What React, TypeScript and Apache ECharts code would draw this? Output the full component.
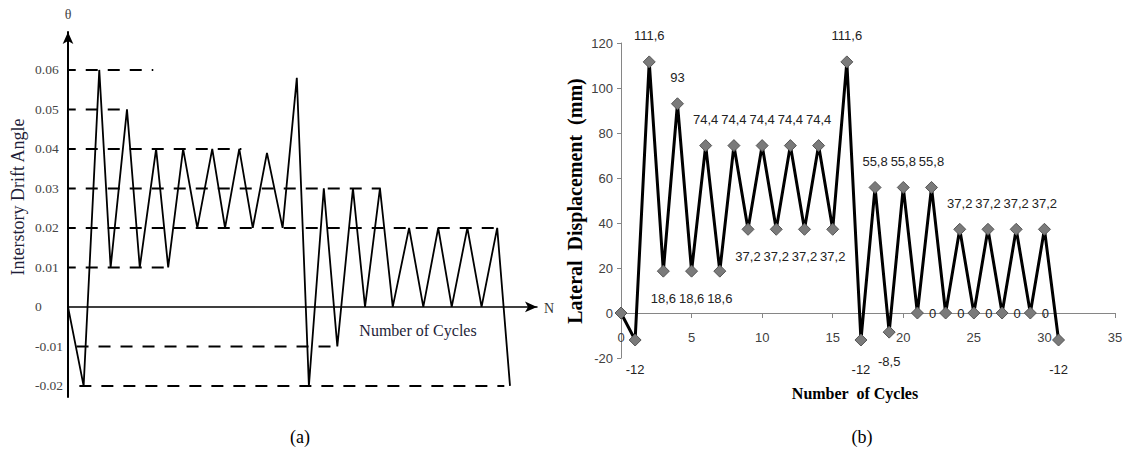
import React, { useEffect, useRef } from 'react';
import * as echarts from 'echarts';

// ---------- Panel (a): interstory drift angle protocol ----------
const driftX = [0, 1.1, 2.2, 3.0, 4.15, 5.05, 6.2, 7.05, 8.1, 9.1, 10.15, 11.05, 12.05, 13.0, 14.0, 15.1, 16.1, 16.95, 18.0, 18.95, 20.05, 20.9, 21.95, 22.85, 24.0, 25.0, 26.05, 27.0, 28.1, 29.1, 30.2, 31.1];
const driftY = [0, -0.02, 0.06, 0.01, 0.05, 0.01, 0.04, 0.01, 0.04, 0.02, 0.04, 0.02, 0.04, 0.02, 0.039, 0.02, 0.058, -0.02, 0.03, -0.01, 0.03, 0, 0.03, 0, 0.02, 0, 0.02, 0, 0.02, 0, 0.02, -0.02];
const driftTicks = [-0.02, -0.01, 0, 0.01, 0.02, 0.03, 0.04, 0.05, 0.06];
const refLevels = [0.06, 0.05, 0.04, 0.03, 0.02, 0.01, -0.01, -0.02];
const refStart = [-0.3, -0.3, -0.3, -0.3, -0.3, -0.3, 0.6, 0.8];
const refEnd = [6.0, 3.9, 12.2, 22.0, 30.2, 7.0, 18.9, 30.7];

// ---------- Panel (b): lateral displacement ----------
const cycles = [0, 1, 2, 3, 4, 5, 6, 7, 8, 9, 10, 11, 12, 13, 14, 15, 16, 17, 18, 19, 20, 21, 22, 23, 24, 25, 26, 27, 28, 29, 30, 31];
const displacement = [0, -12, 111.6, 18.6, 93, 18.6, 74.4, 18.6, 74.4, 37.2, 74.4, 37.2, 74.4, 37.2, 74.4, 37.2, 111.6, -12, 55.8, -8.5, 55.8, 0, 55.8, 0, 37.2, 0, 37.2, 0, 37.2, 0, 37.2, -12];

const SERIF = '"Liberation Serif", "Times New Roman", serif';
const SANS = '"Liberation Sans", Arial, sans-serif';

export default function App() {
  const ref = useRef<HTMLDivElement>(null);
  useEffect(() => {
    if (!ref.current) return;
    const chart = echarts.init(ref.current, null, { renderer: 'svg' });

    const refSeries = refLevels.map((lvl, i) => ({
      type: 'line',
      xAxisIndex: 0,
      yAxisIndex: 0,
      data: [[refStart[i], lvl], [refEnd[i], lvl]],
      symbol: 'none',
      clip: false,
      silent: true,
      lineStyle: { color: '#000', width: 2, type: [12, 10] },
    }));

    const dispData = displacement.map((v, i) => {
      const prev = i > 0 ? displacement[i - 1] : -Infinity;
      const next = i < displacement.length - 1 ? displacement[i + 1] : -Infinity;
      let label: any;
      if (i === 0) label = { show: false };
      else if (v === 0) label = { show: true, position: 'right', distance: 5 };
      else if (v > prev && v > next) label = { show: true, position: 'top', distance: 13 };
      else label = { show: true, position: 'bottom', distance: v < 0 ? 16 : 14 };
      return { value: [cycles[i], v], label };
    });

    // panel (b) grid: height 315 px for -20..120 -> zero sits 45 px above the bottom
    const gridBTop = 43;
    const gridBHeight = 315;
    const zeroOffset = -(gridBHeight * 20) / 140;

    chart.setOption({
      animation: false,
      backgroundColor: '#fff',
      grid: [
        { left: 68, top: 32, width: 469, height: 365 },
        { left: 621, top: gridBTop, width: 494, height: gridBHeight },
      ],
      xAxis: [
        {
          gridIndex: 0, type: 'value', min: 0, max: 33,
          axisLine: { show: true, onZero: true, symbol: ['none', 'arrow'], symbolSize: [8, 12], lineStyle: { color: '#000', width: 1.5 } },
          axisTick: { show: false }, axisLabel: { show: false }, splitLine: { show: false },
        },
        {
          gridIndex: 1, type: 'value', min: 0, max: 35, interval: 5,
          position: 'bottom', offset: zeroOffset,
          axisLine: { show: true, onZero: false, lineStyle: { color: '#868686', width: 1 } },
          axisTick: { show: true, length: 5, lineStyle: { color: '#868686' } },
          axisLabel: { margin: 18, fontFamily: SANS, fontSize: 13, color: '#404040' },
          splitLine: { show: false },
        },
      ],
      yAxis: [
        {
          gridIndex: 0, type: 'value', min: -0.0228, max: 0.0696,
          axisLine: { show: true, symbol: ['none', 'arrow'], symbolSize: [8, 12], lineStyle: { color: '#000', width: 2 } },
          axisTick: { show: false },
          axisLabel: {
            customValues: driftTicks,
            formatter: (v: number) => (Math.abs(v) < 1e-9 ? '0' : v.toFixed(2)),
            align: 'left', margin: 33, fontFamily: SERIF, fontSize: 13.5, color: '#444',
          },
          splitLine: { show: false },
        },
        {
          gridIndex: 1, type: 'value', min: -20, max: 120, interval: 20,
          axisLine: { show: true, onZero: false, lineStyle: { color: '#868686', width: 1 } },
          axisTick: { show: true, length: 4, lineStyle: { color: '#868686' } },
          axisLabel: { margin: 8, fontFamily: SANS, fontSize: 13, color: '#404040' },
          splitLine: { show: false },
        },
      ],
      series: [
        {
          type: 'line', xAxisIndex: 0, yAxisIndex: 0,
          data: driftX.map((x, i) => [x, driftY[i]]),
          symbol: 'none', clip: false,
          lineStyle: { color: '#000', width: 1.8 },
        },
        ...refSeries,
        {
          type: 'line', xAxisIndex: 1, yAxisIndex: 1,
          data: dispData,
          symbol: 'diamond', symbolSize: 12,
          itemStyle: { color: '#7a7a7a', borderColor: '#555', borderWidth: 1 },
          lineStyle: { color: '#000', width: 3 },
          label: {
            fontFamily: SANS, fontSize: 13, color: '#222',
            formatter: (p: any) => String(p.value[1]).replace('.', ','),
          },
        },
      ],
      graphic: [
        { type: 'text', x: 68, y: 14, style: { text: 'θ', fontFamily: SERIF, fontSize: 14, fill: '#444', align: 'center', verticalAlign: 'middle' } },
        { type: 'text', x: 18, y: 197, rotation: Math.PI / 2, style: { text: 'Interstory Drift Angle', fontFamily: SERIF, fontSize: 18, fill: '#1e1e38', align: 'center', verticalAlign: 'middle' } },
        { type: 'text', x: 549, y: 308, style: { text: 'N', fontFamily: SERIF, fontSize: 14, fill: '#333', align: 'center', verticalAlign: 'middle' } },
        { type: 'text', x: 418, y: 330, style: { text: 'Number of Cycles', fontFamily: SERIF, fontSize: 16, fill: '#1e1e38', align: 'center', verticalAlign: 'middle' } },
        { type: 'text', x: 575, y: 201, rotation: Math.PI / 2, style: { text: 'Lateral  Displacement  (mm)', fontFamily: SERIF, fontWeight: 'bold', fontSize: 20, fill: '#000', align: 'center', verticalAlign: 'middle' } },
        { type: 'text', x: 855, y: 393, style: { text: 'Number  of Cycles', fontFamily: SERIF, fontWeight: 'bold', fontSize: 16, fill: '#000', align: 'center', verticalAlign: 'middle' } },
        { type: 'text', x: 300, y: 437, style: { text: '(a)', fontFamily: SERIF, fontSize: 18, fill: '#000', align: 'center', verticalAlign: 'middle' } },
        { type: 'text', x: 862, y: 437, style: { text: '(b)', fontFamily: SERIF, fontSize: 18, fill: '#000', align: 'center', verticalAlign: 'middle' } },
      ],
    });
    return () => chart.dispose();
  }, []);
  return <div ref={ref} style={{ position: 'absolute', left: 0, top: 0, width: 1127, height: 453 }} />;
}
